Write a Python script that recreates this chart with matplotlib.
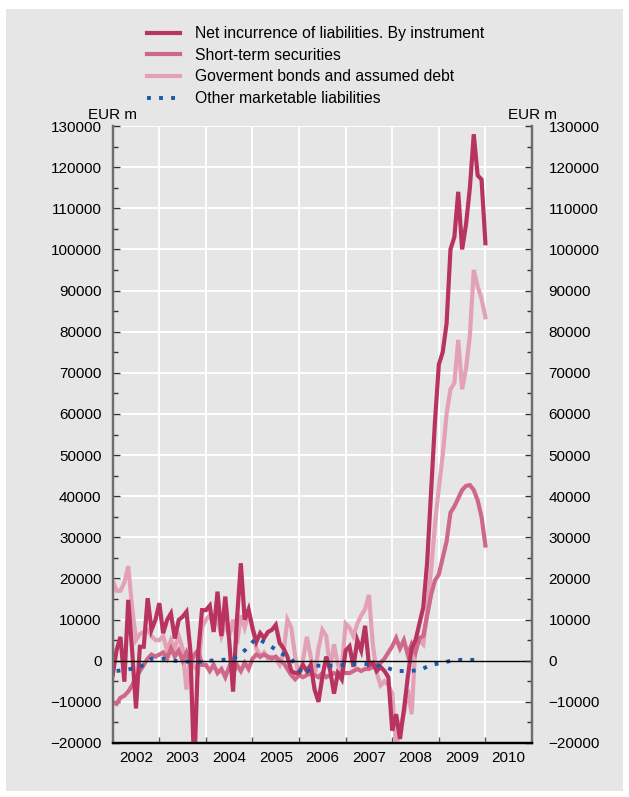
import numpy as np
import matplotlib
matplotlib.use("Agg")
import matplotlib.pyplot as plt
from matplotlib.patches import Rectangle
from matplotlib.ticker import MultipleLocator, FixedLocator, NullFormatter, FixedFormatter

plt.rcParams['font.family'] = ['Liberation Sans', 'DejaVu Sans']

# Monthly data, EUR m (thousands listed), January 2002 .. January 2010
net_incurrence = [
    -3.5, 2.6, 5.8, -5.1, 14.8, 2.6, -11.6, 3.4, 3.4, 15.2, 7.5, 9.9,
    14.0, 6.7, 9.9, 11.5, 5.4, 9.9, 10.7, 11.9, 2.6, -27.0, 1.8, 12.3,
    12.3, 13.4, 7.0, 16.8, 6.0, 15.6, 5.0, -7.5, 10.0, 23.7, 10.0, 12.5,
    8.0, 4.6, 6.7, 5.5, 7.0, 7.5, 8.7, 4.3, 3.0, 1.0, -2.5, -3.0,
    -3.0, -1.0, -2.5, -1.0, -7.0, -10.0, -4.0, 1.0, -2.3, -8.0, -3.0, -4.5,
    2.5, 3.5, -1.5, 5.0, 2.5, 8.5, -1.0, -0.5, -2.5, -1.5, -2.5, -4.0,
    -17.0, -13.0, -19.0, -12.0, -4.0, 3.0, 5.0, 9.0, 13.0, 24.0, 41.0, 58.0,
    72.0, 75.0, 82.0, 100.0, 103.0, 114.0, 100.0, 106.0, 115.0, 128.0, 118.0, 117.0,
    101.5,
]
short_term = [
    -10.0, -10.5, -9.0, -8.5, -7.5, -6.0, -4.0, -2.5, -1.0, 0.5, 1.5, 1.0,
    1.5, 2.0, 0.5, 3.0, 1.0, 2.5, 0.0, 2.0, -1.0, 1.5, 2.5, -1.0,
    -1.0, -2.5, -1.0, -3.0, -2.0, -4.0, -1.5, -3.0, -1.0, -2.5, -0.5, -2.0,
    0.5, 1.5, 1.0, 1.5, 1.0, 0.5, 1.0, 0.0, -0.5, -2.0, -3.5, -4.5,
    -3.5, -4.0, -3.5, -3.0, -3.5, -4.0, -3.0, -4.0, -3.5, -3.0, -3.5, -2.5,
    -3.0, -3.0, -2.5, -2.0, -2.5, -2.0, -2.0, -1.5, -1.0, -0.5, 0.5, 2.0,
    3.5, 5.5, 3.0, 5.0, 1.5, 4.0, 2.0, 5.5, 6.0, 11.0, 16.0, 19.5,
    21.0, 25.0, 29.0, 36.0, 37.5, 39.5, 41.5, 42.5, 42.7, 41.5, 39.0, 35.0,
    28.0,
]
government_bonds = [
    19.5, 17.0, 17.0, 19.0, 23.0, 13.0, 5.0, 6.5, 7.0, 7.5, 6.0, 5.0,
    5.0, 6.0, 2.5, 5.0, 3.0, 6.0, 3.0, -7.0, 1.0, -1.5, -2.5, 8.0,
    10.0, 11.0, 8.5, 10.0, 6.0, 9.0, 6.0, 10.0, 4.0, 11.0, 8.0, 11.5,
    8.0, 3.0, 1.0, 2.0, 0.5, 1.0, 0.5, -1.0, 2.0, 10.0, 8.0, 1.0,
    -4.0, 0.0, 5.8, 1.0, -3.9, 3.0, 7.5, 6.0, -2.0, 4.0, -1.0, -2.0,
    9.0, 8.0, 6.0, 9.0, 11.0, 12.5, 16.0, 4.0, -3.0, -6.0, -5.0, -6.0,
    -8.0, -21.0, -16.0, -13.0, -7.0, -13.0, 4.0, 5.0, 4.0, 12.0, 22.0, 33.0,
    42.0, 50.0, 60.0, 66.0, 67.5, 78.0, 66.0, 71.0, 79.0, 95.0, 91.0, 88.0,
    83.5,
]
# Quarterly, 2002 Q1 .. 2009 Q4
other_marketable = [
    -2.5, -2.1, -1.6, 0.5, 0.5, 0.0, -0.2, -0.3,
    0.0, 0.2, 0.4, 2.5, 5.5, 4.0, 2.0, 0.5,
    -3.5, -1.2, -1.2, -1.2, -0.8, -0.8, -0.9, -1.5,
    -2.5, -2.5, -2.3, -1.0, -0.5, 0.2, 0.2, 0.2,
]

labels = [
    "Net incurrence of liabilities. By instrument",
    "Short-term securities",
    "Goverment bonds and assumed debt",
    "Other marketable liabilities",
]
years = list(range(2002, 2011))

c_net = "#b8335f"
c_short = "#cf6888"
c_gov = "#e3a1b5"
c_other = "#1c5aa5"
bg = "#e6e6e6"

t_month = 2002 + np.arange(len(net_incurrence)) / 12.0
t_quarter = 2002 + (3 * np.arange(len(other_marketable)) + 1) / 12.0
scale = 1000.0

fig = plt.figure(figsize=(6.29, 7.97), dpi=100, facecolor="white")
fig.patches.append(Rectangle((6 / 629, 6 / 797), 617 / 629, 782 / 797,
                             transform=fig.transFigure, facecolor=bg,
                             edgecolor="none", zorder=-10))

ax = fig.add_axes([112.7 / 629, 54 / 797, 419.3 / 629, 617 / 797])
ax.set_facecolor(bg)

lw = 3.0
ax.plot(t_month, np.array(government_bonds) * scale, color=c_gov, lw=lw,
        solid_joinstyle="miter", zorder=3, label=labels[2])
ax.plot(t_month, np.array(short_term) * scale, color=c_short, lw=lw,
        solid_joinstyle="miter", zorder=4, label=labels[1])
ax.plot(t_month, np.array(net_incurrence) * scale, color=c_net, lw=lw,
        solid_joinstyle="miter", zorder=5, label=labels[0])
ax.plot(t_quarter, np.array(other_marketable) * scale, color=c_other, lw=2.8,
        linestyle=(0, (1.0, 2.1)), dash_capstyle="butt", zorder=6,
        label=labels[3])

ax.axhline(0, color="black", lw=1.0, zorder=7)

ymin, ymax = -20000, 130000
ax.set_xlim(2002, 2011)
ax.set_ylim(ymin, ymax)

# grid
for y in range(-10000, 130001, 10000):
    if y != 0:
        ax.axhline(y, color="white", lw=1.4, zorder=1)
for yr in years[1:]:
    ax.axvline(yr, color="white", lw=1.4, zorder=1)

# x axis: ticks at year boundaries, labels centred in each year
ax.xaxis.set_major_locator(FixedLocator(years[1:]))
ax.xaxis.set_major_formatter(NullFormatter())
ax.xaxis.set_minor_locator(FixedLocator([y + 0.5 for y in years]))
ax.xaxis.set_minor_formatter(FixedFormatter([str(y) for y in years]))
ax.tick_params(axis="x", which="major", direction="in", length=4, width=1,
               color="#555555")
ax.tick_params(axis="x", which="minor", length=0, pad=6, labelsize=11)

ax.yaxis.set_major_locator(MultipleLocator(10000))
ax.yaxis.set_minor_locator(MultipleLocator(5000))
ax.tick_params(axis="y", which="major", direction="in", length=5, width=1,
               color="#333333", labelsize=11, pad=8)
ax.tick_params(axis="y", which="minor", direction="in", length=3.5, width=1,
               color="#333333")

ax2 = ax.twinx()
ax2.set_ylim(ymin, ymax)
ax2.yaxis.set_major_locator(MultipleLocator(10000))
ax2.yaxis.set_minor_locator(MultipleLocator(5000))
ax2.tick_params(axis="y", which="major", direction="in", length=5, width=1,
                color="#333333", labelsize=11, pad=12)
ax2.tick_params(axis="y", which="minor", direction="in", length=3.5, width=1,
                color="#333333")

for a in (ax, ax2):
    a.spines["top"].set_visible(False)
    a.spines["left"].set_color("#6e6e6e")
    a.spines["right"].set_color("#6e6e6e")
    a.spines["left"].set_linewidth(1.6)
    a.spines["right"].set_linewidth(1.6)
    a.spines["bottom"].set_color("black")
    a.spines["bottom"].set_linewidth(1.6)

ax.annotate("EUR m", xy=(0, 1), xycoords="axes fraction", xytext=(0, 3),
            textcoords="offset points", ha="center", va="bottom", fontsize=11)
ax.annotate("EUR m", xy=(1, 1), xycoords="axes fraction", xytext=(0, 3),
            textcoords="offset points", ha="center", va="bottom", fontsize=11)

handles, labs = ax.get_legend_handles_labels()
order = [labs.index(l) for l in labels]
leg = fig.legend([handles[i] for i in order], [labs[i] for i in order],
                 loc="upper left", bbox_to_anchor=(147 / 629, 1 - 26 / 797),
                 frameon=False, fontsize=11.3, borderpad=0, borderaxespad=0,
                 handlelength=2.1, handletextpad=0.95, labelspacing=0.43)

fig.savefig("out.png", dpi=100, facecolor="white")
